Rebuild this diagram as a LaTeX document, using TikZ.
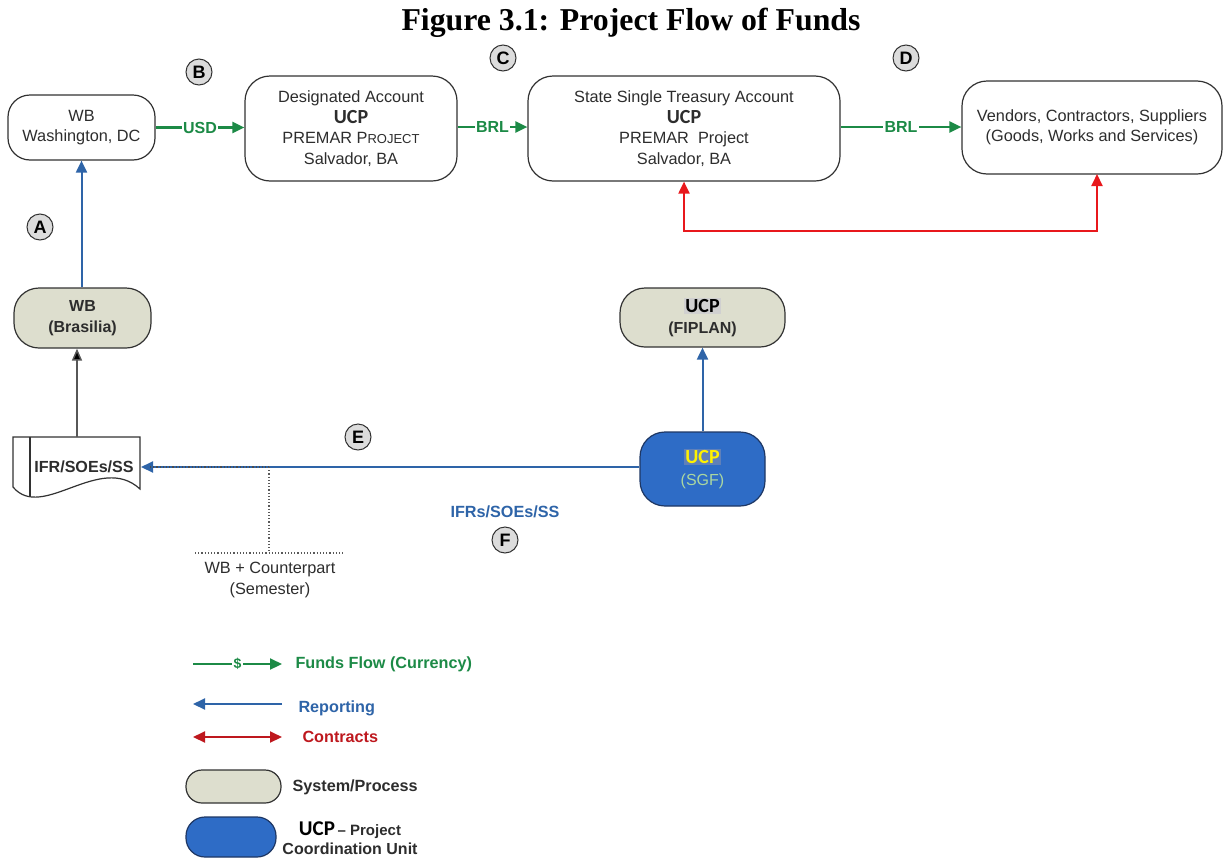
\documentclass[tikz,border=0pt]{standalone}
\usepackage{fontspec}
\setmainfont{Liberation Sans}
\newfontfamily\titlefont{Liberation Serif}
\newfontfamily\calib{Carlito}
\usetikzlibrary{arrows.meta,calc}
\definecolor{boxline}{RGB}{50,50,50}
\definecolor{fundgreen}{RGB}{28,138,70}
\definecolor{repblue}{RGB}{46,100,168}
\definecolor{conred}{RGB}{232,24,28}
\definecolor{legred}{RGB}{190,24,30}
\definecolor{sysfill}{RGB}{221,222,206}
\definecolor{ucpfill}{RGB}{46,108,198}
\definecolor{ucpline}{RGB}{30,55,100}
\definecolor{circfill}{RGB}{220,220,220}
\definecolor{hlgray}{RGB}{208,208,208}
\definecolor{hlblue}{RGB}{95,128,185}
\definecolor{sgfgreen}{RGB}{170,215,160}
\definecolor{txtgray}{RGB}{45,45,45}
\newcommand{\ucpA}{\calib\bfseries\fontsize{20}{20}\selectfont}
\begin{document}
\begin{tikzpicture}[x=1pt,y=-1pt,
  tip/.tip={Triangle[length=12pt,width=11pt]},
  box/.style={draw=boxline, line width=1.2pt, rounded corners=22pt, fill=white,
    align=center, text=txtgray, font=\fontsize{16.3}{20.5}\selectfont, inner sep=0pt},
  sysbox/.style={draw=boxline, line width=1.2pt, rounded corners=25pt, fill=sysfill,
    align=center, text=txtgray, font=\bfseries\fontsize{16}{21}\selectfont, inner sep=0pt},
  ucpbox/.style={draw=ucpline, line width=1.2pt, rounded corners=25pt, fill=ucpfill,
    align=center, inner sep=0pt, font=\fontsize{16}{22}\selectfont},
  letter/.style={circle, draw=boxline, line width=1pt, fill=circfill, minimum size=26pt,
    inner sep=0pt, font=\bfseries\fontsize{18}{18}\selectfont},
  fund/.style={draw=fundgreen, line width=2.2pt, -tip},
  report/.style={draw=repblue, line width=2pt, -tip},
  contract/.style={draw=conred, line width=2pt, tip-tip},
  legcontract/.style={draw=legred, line width=2pt, tip-tip},
  flowlbl/.style={fill=white, inner sep=1.5pt, text=fundgreen, font=\bfseries\fontsize{16}{16}\selectfont},
  legtext/.style={anchor=west, font=\bfseries\fontsize{16.2}{18}\selectfont},
  doc/.style={draw=boxline, line width=1.2pt, fill=white}
]
\useasboundingbox (0,0) rectangle (1226,857);

% title
\node[font=\titlefont\bfseries\fontsize{31.8}{32}\selectfont] (title) at (631,23) {Figure 3.1: Project Flow of Funds};

% top row
\node[box, minimum width=147pt, minimum height=65pt] (wb) at (81.5,127.5) {WB\\Washington, DC};
\node[box, rounded corners=25pt, minimum width=212pt, minimum height=105pt] (da) at (351,128.5)
  {Designated Account\\{\ucpA UCP}\\PREMAR P{\fontsize{13}{20.5}\selectfont ROJECT}\\Salvador, BA};
\node[box, rounded corners=25pt, minimum width=312pt, minimum height=105pt] (sst) at (684,128.5)
  {State Single Treasury Account\\{\ucpA UCP}\\PREMAR\ \ Project\\Salvador, BA};
\node[box, rounded corners=25pt, minimum width=260pt, minimum height=93pt] (ven) at (1092,127.5)
  {Vendors, Contractors, Suppliers\\(Goods, Works and Services)};

\draw[fund] (wb.east) -- node[flowlbl]{USD} (wb.east -| da.west);
\draw[fund] (da.east |- 0,127) -- node[flowlbl]{BRL} (sst.west |- 0,127);
\draw[fund] (sst.east |- 0,127) -- node[flowlbl]{BRL} (ven.west |- 0,127);

\coordinate (venb) at (1097,174);
\draw[contract] (sst.south) -- (684,231) -| (venb);

% letters
\node[letter] (lA) at (40,227) {A};
\node[letter] (lB) at (199,72) {B};
\node[letter] (lC) at (503,58) {C};
\node[letter] (lD) at (906,58) {D};
\node[letter] (lE) at (358,437) {E};
\node[letter] (lF) at (505,540) {F};

% middle
\node[sysbox, minimum width=137pt, minimum height=60pt] (wbb) at (82.5,318) {WB\\(Brasilia)};
\draw[report] (wbb.north -| wb.south) -- (wb.south);

\node[sysbox, minimum width=165pt, minimum height=59pt] (fip) at (702.5,317.5)
  {{\setlength{\fboxsep}{1pt}\colorbox{hlgray}{\ucpA\color{black}UCP}}\\(FIPLAN)};
\node[ucpbox, minimum width=125pt, minimum height=74pt] (sgf) at (702.5,469)
  {{\setlength{\fboxsep}{1pt}\colorbox{hlblue}{\ucpA\color{yellow}UCP}}\\{\color{sgfgreen}(SGF)}};
\draw[report] (sgf.north) -- (fip.south);

% document shape
\draw[doc] (13,437) -- (140,437) -- (140,489) .. controls (100,452) and (42,522) .. (13,487) -- cycle;
\draw[boxline, line width=1.2pt] (30,437) -- (30,496);
\node[font=\bfseries\fontsize{16.1}{18}\selectfont, text=txtgray] (doct) at (84,467) {IFR/SOEs/SS};
\coordinate (docR) at (141,467);
\coordinate (docT) at (77,437);
\draw[draw=txtgray!80, line width=1.5pt, -{Triangle[length=12pt,width=10pt,fill=black]}] (docT) -- (docT |- wbb.south);

\coordinate (jn) at (269,467);
\draw[report] (sgf.west |- jn) -- (docR);
\draw[gray!60!black, line width=1.2pt, dotted] (150,467) -- (jn);
\coordinate (jb) at (269,553);
\draw[gray!70!black, line width=1.2pt, dotted] (jn) -- (jb);
\draw[gray!70!black, line width=1.2pt, dotted] (195,553) -- (345,553);
\node[align=center, text=txtgray, font=\fontsize{16.3}{21}\selectfont] (semi) at (270,580) {WB + Counterpart\\(Semester)};

\node[text=repblue, font=\bfseries\fontsize{16.2}{18}\selectfont] (ifrs) at (505,512) {IFRs/SOEs/SS};

% legend
\coordinate (g1a) at (193,664); \coordinate (g1b) at (282,664);
\draw[fund] (g1a) -- node[flowlbl, font=\bfseries\fontsize{14}{14}\selectfont]{\$} (g1b);
\node[legtext, text=fundgreen] (t1) at (292,664) {Funds Flow (Currency)};

\coordinate (g2a) at (282,704); \coordinate (g2b) at (193,704);
\draw[report] (g2a) -- (g2b);
\node[legtext, text=repblue] (t2) at (295,708) {Reporting};

\coordinate (g3a) at (193,737); \coordinate (g3b) at (282,737);
\draw[legcontract] (g3a) -- (g3b);
\node[legtext, text=legred] (t3) at (299,737) {Contracts};

\node[sysbox, rounded corners=16pt, minimum width=95pt, minimum height=33pt] (gs) at (233.5,786.5) {};
\node[legtext, text=txtgray] (t4) at (289,787) {System/Process};

\node[ucpbox, rounded corners=19pt, minimum width=90pt, minimum height=40pt] (gu) at (231,837) {};
\node[align=center, text=txtgray, font=\bfseries\fontsize{16}{19}\selectfont] (t5) at (350,838)
  {{\calib\bfseries\fontsize{21}{20}\selectfont\color{black}UCP}\,{\fontsize{15}{19}\selectfont -- Project}\\Coordination Unit};
\end{tikzpicture}
\end{document}
